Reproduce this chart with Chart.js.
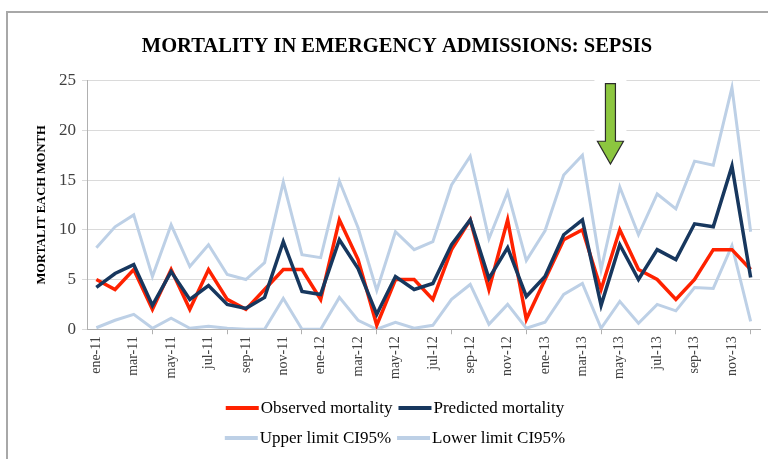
<!DOCTYPE html>
<html><head><meta charset="utf-8">
<script src="https://cdn.jsdelivr.net/npm/chart.js@4.4.0/dist/chart.umd.min.js"></script>
<style>
html,body{margin:0;padding:0;background:#fff;}
#wrap{position:relative;width:768px;height:459px;overflow:hidden;}
#frame{position:absolute;left:6px;top:11px;width:800px;height:500px;border-left:2px solid #a8a8a8;border-top:2px solid #a8a8a8;}
canvas{position:absolute;left:0;top:0;}
</style></head><body>
<div id="wrap"><div id="frame"></div><canvas id="c" width="768" height="459"></canvas></div>
<script>
const months = ['ene-11','feb-11','mar-11','abr-11','may-11','jun-11','jul-11','ago-11','sep-11','oct-11','nov-11','dic-11',
  'ene-12','feb-12','mar-12','abr-12','may-12','jun-12','jul-12','ago-12','sep-12','oct-12','nov-12','dic-12',
  'ene-13','feb-13','mar-13','abr-13','may-13','jun-13','jul-13','ago-13','sep-13','oct-13','nov-13','dic-13'];
const observed  = [5,4,6,2,6,2,6,3,2,4,6,6, 3,11,7,0.4,5,5,3,8,11,4,11,1, 5,9,10,4,10,6,5,3,5,8,8,6];
const predicted = [4.2,5.6,6.5,2.4,5.8,3.0,4.4,2.5,2.1,3.2,8.8,3.8, 3.5,9.0,6.1,1.5,5.3,4.0,4.6,8.5,11.0,5.1,8.2,3.3, 5.3,9.5,11.0,2.4,8.5,5.0,8.0,7.0,10.6,10.3,16.4,5.2];
const upperCI   = [8.2,10.3,11.5,5.3,10.5,6.3,8.5,5.5,5.0,6.7,14.8,7.5, 7.2,14.9,10.2,3.9,9.8,8.0,8.8,14.5,17.4,9.1,13.8,6.9, 9.9,15.5,17.5,6.0,14.3,9.5,13.6,12.1,16.9,16.5,24.3,9.8];
const lowerCI   = [0.15,0.9,1.5,0.1,1.1,0.1,0.3,0.1,0,0,3.1,0, 0,3.2,0.9,0,0.7,0.1,0.4,3.0,4.5,0.5,2.5,0.1, 0.7,3.5,4.6,0.1,2.8,0.6,2.5,1.85,4.2,4.1,8.4,0.8];
const seriesNames = ['Observed mortality','Predicted mortality','Upper limit CI95%','Lower limit CI95%'];
const titleText = 'MORTALITY IN EMERGENCY ADMISSIONS: SEPSIS';
const yTitle = 'MORTALIT EACH MONTH';
const arrowMonthPos = 27.5;   // arrow between abr-13 and may-13
const arrowTop = 24.7, arrowNeck = 18.9, arrowTip = 16.6;

const RED = '#ff2200', NAVY = '#17375e', LIGHT = '#bdd0e6';
const SERIF = '"Liberation Serif", "DejaVu Serif", serif';

const arrowPlugin = {
  id: 'arrow',
  beforeDatasetsDraw(chart) {
    const x = chart.scales.x, y = chart.scales.y, ctx = chart.ctx;
    const cx = x.getPixelForValue(arrowMonthPos);
    ctx.save();
    ctx.fillStyle = '#ffffff';
    ctx.fillRect(cx - 16, chart.chartArea.top - 4, 32, y.getPixelForValue(arrowTip) - chart.chartArea.top + 10);
    ctx.restore();
  },
  afterDraw(chart) {
    const x = chart.scales.x, y = chart.scales.y, ctx = chart.ctx;
    const cx = x.getPixelForValue(arrowMonthPos);
    const yt = y.getPixelForValue(arrowTop), yn = y.getPixelForValue(arrowNeck), yp = y.getPixelForValue(arrowTip);
    ctx.save();
    ctx.beginPath();
    ctx.moveTo(cx - 5, yt); ctx.lineTo(cx + 5, yt); ctx.lineTo(cx + 5, yn);
    ctx.lineTo(cx + 13, yn); ctx.lineTo(cx, yp); ctx.lineTo(cx - 13, yn);
    ctx.lineTo(cx - 5, yn); ctx.closePath();
    ctx.fillStyle = '#8cc63f'; ctx.fill();
    ctx.lineWidth = 1.2; ctx.strokeStyle = '#2b2b2b'; ctx.stroke();
    ctx.restore();
  }
};

const legendPlugin = {
  id: 'twoRowLegend',
  afterDraw(chart) {
    const ctx = chart.ctx, ds = chart.data.datasets;
    const rows = [[0,1],[2,3]], rowY = [408, 438], center = 395, lineLen = 33, gap = 6;
    ctx.save();
    ctx.font = '17px ' + SERIF;
    ctx.textBaseline = 'middle';
    ctx.fillStyle = '#000';
    rows.forEach((row, r) => {
      const widths = row.map(i => lineLen + 2 + ctx.measureText(ds[i].label).width);
      const total = widths.reduce((a, b) => a + b, 0) + gap * (row.length - 1);
      let xx = center - total / 2;
      row.forEach((i, k) => {
        ctx.strokeStyle = ds[i].borderColor; ctx.lineWidth = 4; ctx.lineCap = 'butt';
        ctx.beginPath(); ctx.moveTo(xx, rowY[r]); ctx.lineTo(xx + lineLen, rowY[r]); ctx.stroke();
        ctx.fillText(ds[i].label, xx + lineLen + 2, rowY[r] + 1);
        xx += widths[k] + gap;
      });
    });
    ctx.restore();
  }
};

new Chart(document.getElementById('c'), {
  type: 'line',
  data: {
    labels: months,
    datasets: [
      { label: seriesNames[0], data: observed, borderColor: RED, borderWidth: 3.5, order: 2 },
      { label: seriesNames[1], data: predicted, borderColor: NAVY, borderWidth: 3.5, order: 1 },
      { label: seriesNames[2], data: upperCI, borderColor: LIGHT, borderWidth: 3, order: 3 },
      { label: seriesNames[3], data: lowerCI, borderColor: LIGHT, borderWidth: 3, order: 4 }
    ]
  },
  options: {
    responsive: false,
    animation: false,
    elements: { point: { radius: 0, hoverRadius: 0 }, line: { tension: 0, borderJoinStyle: 'miter', fill: false } },
    layout: { padding: { left: 34, right: 8, top: 12, bottom: 78 } },
    plugins: {
      legend: { display: false },
      tooltip: { enabled: false },
      title: {
        display: true, text: titleText, color: '#000',
        font: { family: SERIF, size: 20.5, weight: 'bold' },
        padding: { top: 22, bottom: 22 }
      }
    },
    scales: {
      x: {
        offset: true,
        grid: { display: true, drawOnChartArea: false, drawTicks: true, tickLength: 5, offset: true, color: '#b0b0b0' },
        border: { color: '#b0b0b0', width: 1 },
        ticks: { autoSkip: true, maxTicksLimit: 18, minRotation: 90, maxRotation: 90, color: '#404040',
                 font: { family: SERIF, size: 14 }, padding: 2 }
      },
      y: {
        min: 0, max: 25,
        grid: { color: '#dadada', tickLength: 5, drawTicks: true },
        border: { color: '#b0b0b0', width: 1 },
        ticks: { stepSize: 5, color: '#404040', font: { family: SERIF, size: 17 }, padding: 6 },
        title: { display: true, text: yTitle, color: '#000', font: { family: SERIF, size: 12.5, weight: 'bold' }, padding: { top: 0, bottom: 4 } }
      }
    }
  },
  plugins: [arrowPlugin, legendPlugin]
});
</script>
</body></html>
